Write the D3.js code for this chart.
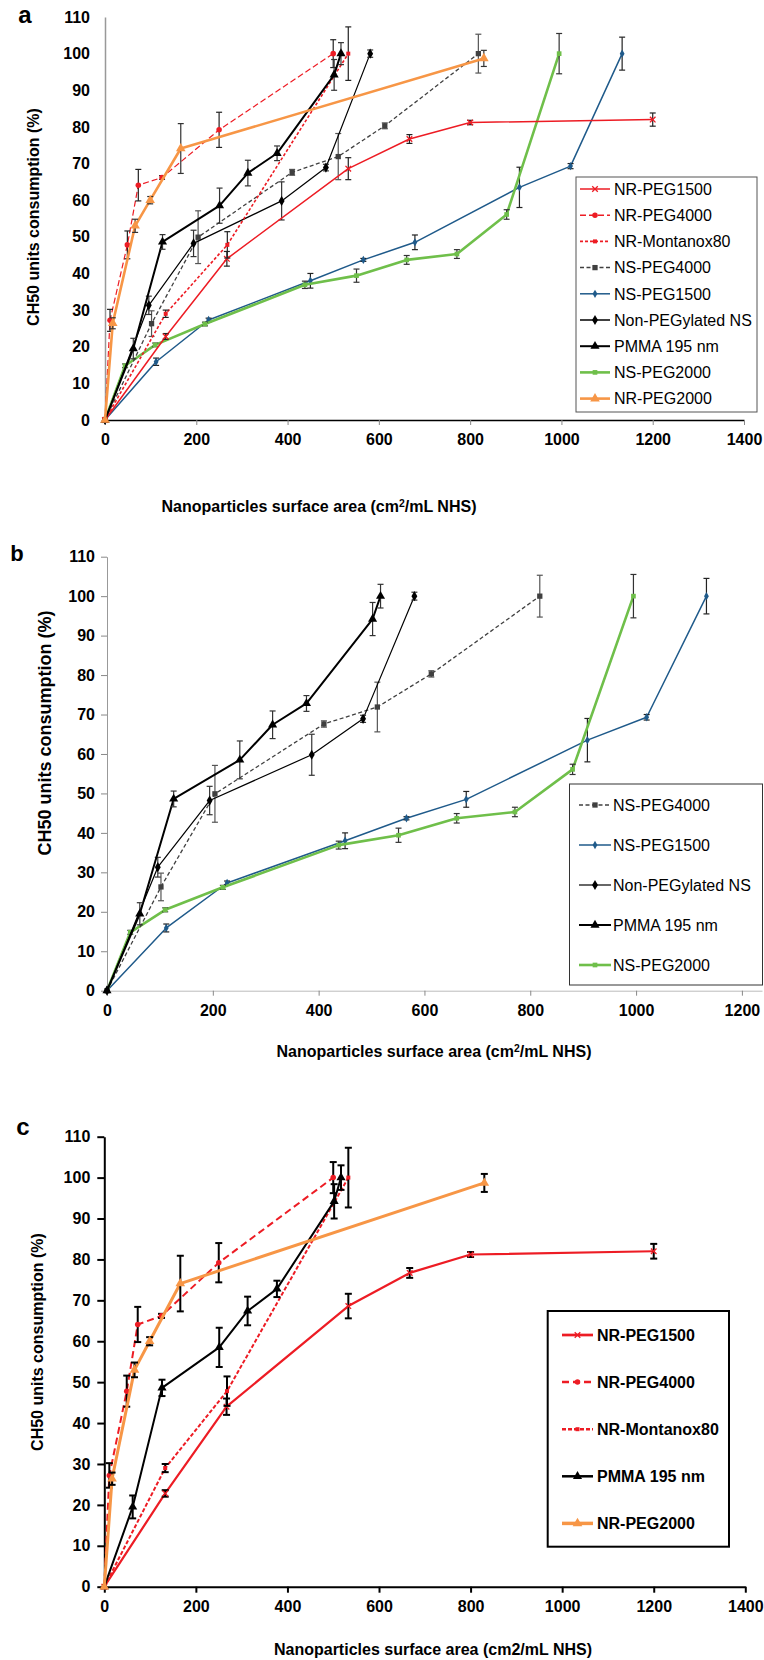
<!DOCTYPE html>
<html><head><meta charset="utf-8">
<script src="https://cdn.jsdelivr.net/npm/d3@7"></script>
<style>
body{margin:0;background:#fff;}
svg{display:block;font-family:"Liberation Sans",Arial,sans-serif;}
</style></head>
<body>
<svg id="chart" width="764" height="1660"></svg>
<script>
// ---------------- DATA ----------------
const yTicks = [0,10,20,30,40,50,60,70,80,90,100,110];
const xTicksAC = [0,200,400,600,800,1000,1200,1400];
const xTicksB = [0,200,400,600,800,1000,1200];

const nrPeg1500X = [0,133,267,533,667,800,1200];
const nrPeg1500Y = [0,22.8,44,68.6,76.7,81.2,82];
const nrPeg1500E = [0,0.8,2,3,1.2,0.6,1.8];

const nrPeg4000X = [0,11,49,73,125,250,500];
const nrPeg4000Y = [0,27.2,47.8,64.1,66.2,79.2,100];
const nrPeg4000E = [0,3,3.8,4.3,0.5,4.8,3.8];

const nrMontanoxX = [0,133,268,533];
const nrMontanoxY = [0,29,47.8,100];
const nrMontanoxE = [0,1,3.6,7.3];

const nsPeg4000X = [0,102,204,410,511,613,818];
const nsPeg4000Y = [0,26.3,49.9,67.6,71.9,80.3,100];
const nsPeg4000E = [0,3.5,7.2,0.8,6.3,0.8,5.3];

const nsPeg1500X = [0,112,227,450,566,679,908,1020,1133];
const nsPeg1500Y = [0,15.9,27.3,38,43.7,48.5,63.5,69.3,100];
const nsPeg1500E = [0,1,0.5,2,0.4,2,5.5,0.7,4.5];

const nonPegX = [0,96,194,387,484,581];
const nonPegY = [0,31.3,48.2,59.8,68.9,100];
const nonPegE = [0,2.5,3.6,5.2,0.9,1];

const pmmaX = [0,62,126,251,313,377,502,517];
const pmmaY = [0,19.5,48.6,58.5,67.4,72.8,94.2,100];
const pmmaE = [0,2.8,2,4.8,3.5,2,4.2,3];

const nsPeg2000X = [0,44,110,219,438,551,661,771,880,995];
const nsPeg2000Y = [0,14.8,20.5,26.2,36.9,39.4,43.7,45.3,56.1,100];
const nsPeg2000E = [0,0.5,0.5,0.5,1,1.8,1.2,1.2,1.3,5.5];

const nrPeg2000X = [0,17,66,99,166,830];
const nrPeg2000Y = [0,26.4,53,60,74.1,98.7];
const nrPeg2000E = [0,1.5,1.8,1,6.8,2.2];

const panelAOrder = ["NS-PEG1500","NS-PEG2000","NS-PEG4000","Non-PEGylated NS","NR-PEG1500","NR-Montanox80","NR-PEG4000","PMMA 195 nm","NR-PEG2000"];
const legendA = ["NR-PEG1500","NR-PEG4000","NR-Montanox80","NS-PEG4000","NS-PEG1500","Non-PEGylated NS","PMMA 195 nm","NS-PEG2000","NR-PEG2000"];
const legendB = ["NS-PEG4000","NS-PEG1500","Non-PEGylated NS","PMMA 195 nm","NS-PEG2000"];
const panelBOrder = ["NS-PEG1500","NS-PEG2000","NS-PEG4000","Non-PEGylated NS","PMMA 195 nm"];
const legendC = ["NR-PEG1500","NR-PEG4000","NR-Montanox80","PMMA 195 nm","NR-PEG2000"];
const panelCOrder = ["NR-PEG1500","NR-Montanox80","NR-PEG4000","PMMA 195 nm","NR-PEG2000"];

const dataTable = {
  "NR-PEG1500":[nrPeg1500X,nrPeg1500Y,nrPeg1500E],
  "NR-PEG4000":[nrPeg4000X,nrPeg4000Y,nrPeg4000E],
  "NR-Montanox80":[nrMontanoxX,nrMontanoxY,nrMontanoxE],
  "NS-PEG4000":[nsPeg4000X,nsPeg4000Y,nsPeg4000E],
  "NS-PEG1500":[nsPeg1500X,nsPeg1500Y,nsPeg1500E],
  "Non-PEGylated NS":[nonPegX,nonPegY,nonPegE],
  "PMMA 195 nm":[pmmaX,pmmaY,pmmaE],
  "NS-PEG2000":[nsPeg2000X,nsPeg2000Y,nsPeg2000E],
  "NR-PEG2000":[nrPeg2000X,nrPeg2000Y,nrPeg2000E]
};

// ---------------- STYLES ----------------
const RED="#ed1c24", ORANGE="#f79646", GREEN="#6fbf4a", BLUE="#1f5a8a";
const styleAB = {
  "NR-PEG1500":{c:RED,w:1.5,d:null,m:"x",s:22,ec:"#222"},
  "NR-PEG4000":{c:RED,w:1.2,d:"6,3",m:"circle",s:24,ec:"#222"},
  "NR-Montanox80":{c:RED,w:1.6,d:"3,2",m:"square",s:16,ec:"#222"},
  "NS-PEG4000":{c:"#404040",w:1.3,d:"4,2.5",m:"square",s:28,ec:"#555"},
  "NS-PEG1500":{c:BLUE,w:1.5,d:null,m:"diamond",s:20,ec:"#222"},
  "Non-PEGylated NS":{c:"#000",w:1.2,d:null,m:"diamond",s:30,ec:"#333"},
  "PMMA 195 nm":{c:"#000",w:2,d:null,m:"triangle",s:36,ec:"#333"},
  "NS-PEG2000":{c:GREEN,w:2.6,d:null,m:"square",s:22,ec:"#333"},
  "NR-PEG2000":{c:ORANGE,w:2.6,d:null,m:"triangle",s:40,ec:"#333"}
};
const styleC = {
  "NR-PEG1500":{c:RED,w:2.2,d:null,m:"x",s:22,ec:"#000"},
  "NR-PEG4000":{c:RED,w:2,d:"7,4",m:"circle",s:24,ec:"#000"},
  "NR-Montanox80":{c:RED,w:2,d:"4,2",m:"square",s:16,ec:"#000"},
  "PMMA 195 nm":{c:"#000",w:2,d:null,m:"triangle",s:36,ec:"#000"},
  "NR-PEG2000":{c:ORANGE,w:3,d:null,m:"triangle",s:40,ec:"#000"}
};
const symType = {x:d3.symbolX, circle:d3.symbolCircle, square:d3.symbolSquare, diamond:d3.symbolDiamond, triangle:d3.symbolTriangle};

const svg = d3.select("#chart");
const FONT = '"Liberation Sans",Arial,sans-serif';

function marker(g, st, cx, cy){
  const p = d3.symbol().type(symType[st.m]).size(st.s)();
  const m = g.append("path").attr("d",p).attr("transform",`translate(${cx},${cy})`);
  if(st.m==="x") m.attr("fill","none").attr("stroke",st.c).attr("stroke-width",1.3);
  else m.attr("fill",st.c).attr("stroke","none");
}

function drawPanel(cfg){
  const g = svg.append("g");
  const x = d3.scaleLinear().domain(cfg.xDom).range(cfg.xRange);
  const y = d3.scaleLinear().domain([0,110]).range(cfg.yRange);
  const fmt = d3.format("d");

  const xa = g.append("g").attr("transform",`translate(0,${cfg.yRange[0]})`)
    .call(d3.axisBottom(x).tickValues(cfg.xTicks).tickFormat(fmt).tickSize(cfg.xTickSize).tickPadding(cfg.xPad).tickSizeOuter(0));
  xa.select(".domain").attr("stroke",cfg.xAxisColor).attr("stroke-width",cfg.xAxisW);
  xa.selectAll(".tick line").attr("stroke",cfg.tickColor).attr("stroke-width",cfg.tickW);
  xa.selectAll("text").attr("font-family",FONT).attr("font-size",cfg.tickFont).attr("font-weight","bold").attr("fill","#000");

  const ya = g.append("g").attr("transform",`translate(${cfg.xRange[0]},0)`)
    .call(d3.axisLeft(y).tickValues(yTicks).tickFormat(fmt).tickSize(cfg.yTickSize).tickPadding(cfg.yPad).tickSizeOuter(0));
  ya.select(".domain").attr("stroke",cfg.yAxisColor).attr("stroke-width",cfg.yAxisW);
  ya.selectAll(".tick line").attr("stroke",cfg.tickColor).attr("stroke-width",cfg.tickW);
  ya.selectAll("text").attr("font-family",FONT).attr("font-size",cfg.tickFont).attr("font-weight","bold").attr("fill","#000");

  const line = d3.line().x(d=>x(d[0])).y(d=>y(d[1]));
  cfg.order.forEach(name=>{
    const st = cfg.styles[name];
    const [xs,ys,es] = dataTable[name];
    const pts = xs.map((v,i)=>[v,ys[i],es[i]]);
    const sg = g.append("g");
    sg.append("path").datum(pts).attr("d",line).attr("fill","none")
      .attr("stroke",st.c).attr("stroke-width",st.w)
      .attr("stroke-dasharray",st.d).attr("stroke-linejoin","round");
    pts.forEach(p=>{
      if(p[2]>0){
        const px=x(p[0]), y1=y(p[1]-p[2]), y2=y(p[1]+p[2]);
        sg.append("line").attr("x1",px).attr("x2",px).attr("y1",y1).attr("y2",y2).attr("stroke",st.ec).attr("stroke-width",cfg.ebW);
        [y1,y2].forEach(yy=>sg.append("line").attr("x1",px-cfg.cap).attr("x2",px+cfg.cap).attr("y1",yy).attr("y2",yy).attr("stroke",st.ec).attr("stroke-width",cfg.ebW));
      }
      marker(sg,st,x(p[0]),y(p[1]));
    });
  });

  const L = cfg.legend;
  g.append("rect").attr("x",L.x).attr("y",L.y).attr("width",L.w).attr("height",L.h)
    .attr("fill","#fff").attr("stroke",L.stroke).attr("stroke-width",L.sw);
  L.items.forEach((name,i)=>{
    const st = cfg.styles[name];
    const ly = L.firstY + i*L.step;
    const lg = g.append("g");
    lg.append("line").attr("x1",L.lx1).attr("x2",L.lx2).attr("y1",ly).attr("y2",ly)
      .attr("stroke",st.c).attr("stroke-width",L.lineW(name,st)).attr("stroke-dasharray",st.d);
    marker(lg,st,(L.lx1+L.lx2)/2,ly);
    lg.append("text").attr("x",L.tx).attr("y",ly).attr("dy","0.36em")
      .attr("font-family",FONT).attr("font-size",L.font).attr("font-weight",L.weight).attr("fill","#000").text(name);
  });

  const xt = g.append("text").attr("x",cfg.xTitle.x).attr("y",cfg.xTitle.y).attr("text-anchor","middle")
    .attr("font-family",FONT).attr("font-size",cfg.xTitle.size).attr("font-weight","bold").attr("fill","#000");
  if(cfg.xTitle.sup){
    xt.append("tspan").text("Nanoparticles surface area (cm");
    xt.append("tspan").attr("font-size",cfg.xTitle.size*0.65).attr("dy","-0.5em").text("2");
    xt.append("tspan").attr("dy","0.33em").text("/mL NHS)");
  } else xt.text("Nanoparticles surface area (cm2/mL NHS)");

  g.append("text").attr("transform",`translate(${cfg.yTitle.x},${cfg.yTitle.y}) rotate(-90)`)
    .attr("text-anchor","middle").attr("dy","0.35em")
    .attr("font-family",FONT).attr("font-size",cfg.yTitle.size).attr("font-weight","bold").attr("fill","#000")
    .text("CH50 units consumption (%)");

  g.append("text").attr("x",cfg.label.x).attr("y",cfg.label.y).attr("dy","0.35em").attr("text-anchor","middle")
    .attr("font-family",FONT).attr("font-size",cfg.label.size).attr("font-weight","bold").text(cfg.label.t);
}

// Panel a
drawPanel({
  xDom:[0,1400], xRange:[105,744], yRange:[420,17], xTicks:xTicksAC,
  xTickSize:5, xPad:9, yTickSize:0, yPad:15, tickFont:16, tickColor:"#888", tickW:1,
  xAxisColor:"#000", xAxisW:1.5, yAxisColor:"#999", yAxisW:1.5,
  order:panelAOrder, styles:styleAB, ebW:1.2, cap:3,
  legend:{x:576,y:177,w:181,h:235,stroke:"#555",sw:1,items:legendA,firstY:189,step:26.2,
    lx1:580,lx2:610,tx:614,font:16,weight:"normal",lineW:(n,st)=>Math.max(st.w,1.5)},
  xTitle:{x:319,y:512,size:16,sup:true},
  yTitle:{x:33,y:217,size:16},
  label:{x:25,y:15,size:24,t:"a"}
});

// Panel b
drawPanel({
  xDom:[0,1238], xRange:[107,762], yRange:[990.7,556.7], xTicks:xTicksB,
  xTickSize:5, xPad:9, yTickSize:6, yPad:6, tickFont:16, tickColor:"#888", tickW:1,
  xAxisColor:"#bbb", xAxisW:1, yAxisColor:"#999", yAxisW:1,
  order:panelBOrder, styles:styleAB, ebW:1.2, cap:3,
  legend:{x:569.5,y:784,w:193,h:201,stroke:"#333",sw:1,items:legendB,firstY:805,step:40,
    lx1:579,lx2:611,tx:613,font:16,weight:"normal",lineW:(n,st)=>st.w},
  xTitle:{x:434,y:1057,size:16,sup:true},
  yTitle:{x:45,y:733,size:18},
  label:{x:17,y:553,size:22,t:"b"}
});

// Panel c
drawPanel({
  xDom:[0,1400], xRange:[104.3,745.3], yRange:[1586.7,1136.7], xTicks:xTicksAC,
  xTickSize:6, xPad:8, yTickSize:7, yPad:7, tickFont:16, tickColor:"#000", tickW:2,
  xAxisColor:"#000", xAxisW:2, yAxisColor:"#000", yAxisW:2,
  order:panelCOrder, styles:styleC, ebW:2, cap:3.5,
  legend:{x:547.7,y:1311,w:181.3,h:235.7,stroke:"#000",sw:2,items:legendC,firstY:1335,step:47.1,
    lx1:562,lx2:593,tx:597,font:16,weight:"bold",lineW:(n,st)=>st.w+0.5},
  xTitle:{x:433,y:1655,size:16,sup:false},
  yTitle:{x:37,y:1342,size:16},
  label:{x:23,y:1127,size:24,t:"c"}
});
</script>
</body></html>
